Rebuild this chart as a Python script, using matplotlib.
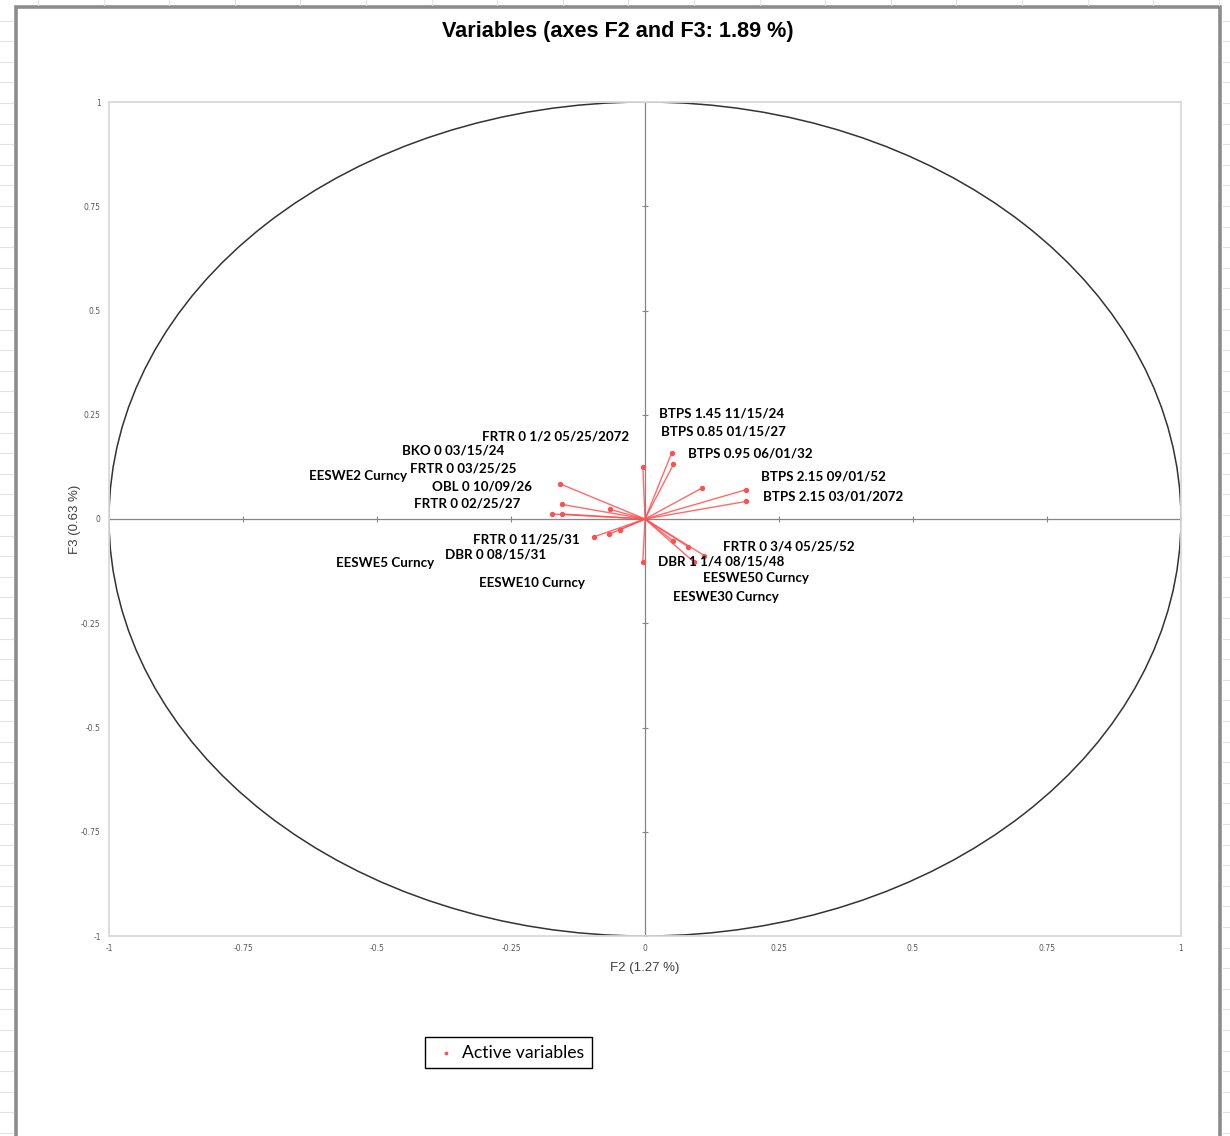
import numpy as np
import matplotlib
matplotlib.use("Agg")
import matplotlib.pyplot as plt
from matplotlib.lines import Line2D
from matplotlib.patches import Rectangle, Ellipse

# variable names and their coordinates on F2 / F3
names = [
    "BTPS 1.45 11/15/24", "BTPS 0.85 01/15/27", "BTPS 0.95 06/01/32",
    "BTPS 2.15 09/01/52", "BTPS 2.15 03/01/2072", "FRTR 0 1/2 05/25/2072",
    "BKO 0 03/15/24", "EESWE2 Curncy", "FRTR 0 03/25/25", "OBL 0 10/09/26",
    "FRTR 0 02/25/27", "FRTR 0 11/25/31", "DBR 0 08/15/31", "EESWE5 Curncy",
    "EESWE10 Curncy", "FRTR 0 3/4 05/25/52", "DBR 1 1/4 08/15/48",
    "EESWE50 Curncy", "EESWE30 Curncy",
]
f2 = [0.050, 0.053, 0.106, 0.188, 0.188, -0.004, -0.158, -0.173, -0.155, -0.065,
      -0.154, -0.096, -0.068, -0.047, -0.004, 0.111, 0.092, 0.080, 0.053]
f3 = [0.159, 0.131, 0.074, 0.070, 0.042, 0.125, 0.084, 0.012, 0.035, 0.023,
      0.012, -0.043, -0.037, -0.026, -0.102, -0.088, -0.104, -0.066, -0.053]

# where the labels were placed (data coords, label centre)
lab_x = [0.142, 0.146, 0.196, 0.332, 0.351, -0.166, -0.358, -0.535, -0.340, -0.304,
         -0.332, -0.222, -0.278, -0.485, -0.211, 0.269, 0.142, 0.207, 0.151]
lab_y = [0.252, 0.211, 0.158, 0.101, 0.055, 0.199, 0.165, 0.103, 0.120, 0.079,
         0.038, -0.048, -0.086, -0.106, -0.153, -0.067, -0.103, -0.141, -0.187]

ticks = [-1, -0.75, -0.5, -0.25, 0, 0.25, 0.5, 0.75, 1]
tick_labels = ["-1", "-0.75", "-0.5", "-0.25", "0", "0.25", "0.5", "0.75", "1"]

W, H = 1230, 1136
fig = plt.figure(figsize=(W / 100, H / 100), dpi=100)
fig.patch.set_facecolor("white")

# spreadsheet cell lines peeking out around the chart
grid_c = "#e2e2e2"
for yy in np.arange(20.6, H, 20.6):
    fig.add_artist(Line2D([0, 13 / W], [1 - yy / H] * 2, color=grid_c, lw=0.8,
                          transform=fig.transFigure))
    fig.add_artist(Line2D([1223 / W, 1], [1 - yy / H] * 2, color=grid_c, lw=0.8,
                          transform=fig.transFigure))
for xx in np.arange(38, W, 65.6):
    fig.add_artist(Line2D([xx / W] * 2, [1 - 5 / H, 1], color=grid_c, lw=0.8,
                          transform=fig.transFigure))

# chart area frame
fig.add_artist(Rectangle((16 / W, -0.01), (1220 - 16) / W, 1.01 - 7 / H,
                         transform=fig.transFigure, fill=False,
                         edgecolor="#8c8c8c", lw=2.6))

ax = fig.add_axes([109 / W, 1 - 936 / H, (1181 - 109) / W, (936 - 102) / H])
ax.set_xlim(-1, 1)
ax.set_ylim(-1, 1)
for s in ax.spines.values():
    s.set_color("#d9d9d9")
    s.set_linewidth(1.3)

ax.set_xticks(ticks)
ax.set_xticklabels(tick_labels)
ax.set_yticks(ticks)
ax.set_yticklabels(tick_labels)
ax.tick_params(length=0, labelsize=5.5, labelcolor="#595959", pad=6)

# correlation circle and axes through zero
ax.add_patch(Ellipse((0, 0), 2, 2, fill=False, edgecolor="#333333", lw=1.1))
ax.axhline(0, color="#868686", lw=0.9)
ax.axvline(0, color="#868686", lw=0.9)
ax.plot(ticks, [0] * len(ticks), ls="none", marker="|", ms=5, color="#868686", mew=0.8)
ax.plot([0] * len(ticks), ticks, ls="none", marker="_", ms=5, color="#868686", mew=0.8)

red = "#ff5050"
for x, y in zip(f2, f3):
    ax.plot([0, x], [0, y], color=red, lw=1.0, alpha=0.85)
pts = ax.scatter(f2, f3, s=8, color=red, zorder=3, label="Active variables")

for name, x, y in zip(names, lab_x, lab_y):
    ax.text(x, y, name, ha="center", va="center", fontsize=9.6,
            fontweight="bold", family="Lato", color="#000000")

ax.set_xlabel("F2 (1.27 %)", family="Liberation Sans", fontsize=9.5,
              color="#404040", labelpad=6)
ax.set_ylabel("F3 (0.63 %)", family="Liberation Sans", fontsize=9.5,
              color="#404040", labelpad=0)

fig.text(618 / W, 1 - 31 / H, "Variables (axes F2 and F3: 1.89 %)",
         ha="center", va="center", family="Liberation Sans",
         fontweight="bold", fontsize=15.6)

leg = fig.legend(handles=[pts], loc="center",
                 bbox_to_anchor=(508.5 / W, 1 - 1052.5 / H),
                 prop={"family": "Lato", "size": 12.7}, fancybox=False,
                 edgecolor="black", framealpha=1, handletextpad=0.15,
                 markerscale=0.6, borderpad=0.45, handlelength=1.5,
                 borderaxespad=0)
leg.get_frame().set_linewidth(1.0)

fig.savefig("out.png", dpi=100)
